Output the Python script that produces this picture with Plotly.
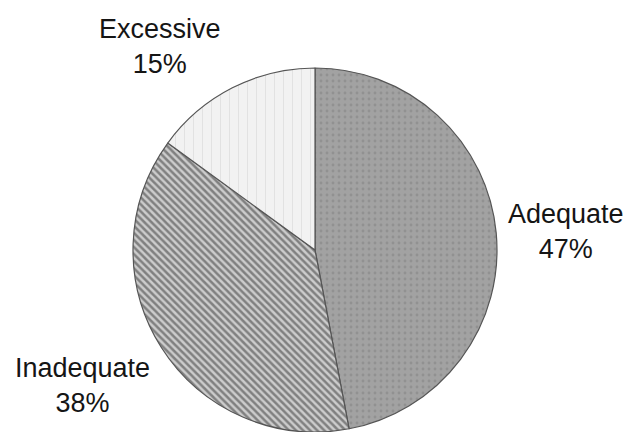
import plotly.graph_objects as go

labels = ["Adequate", "Inadequate", "Excessive"]
values = [47, 38, 15]

bg_colors = ["#a2a2a2", "#cccccc", "#f2f2f2"]
fg_colors = ["#808080", "#333333", "#cfcfcf"]
shapes = [".", "\\", "|"]
sizes = [6, 5, 9]
solidities = [0.18, 0.5, 0.1]

# label anchor positions (paper coords)
label_x = [566 / 628, 82 / 628, 159.5 / 628]
label_y = [1 - 231.5 / 432, 1 - 385 / 432, 1 - 46.5 / 432]

fig = go.Figure(
    go.Pie(
        labels=labels,
        values=values,
        sort=False,
        direction="clockwise",
        rotation=0,
        textinfo="none",
        hoverinfo="label+percent",
        showlegend=False,
        domain=dict(x=[0.2118, 0.7914], y=[0.0, 0.8426]),
        marker=dict(
            colors=bg_colors,
            line=dict(color="#555555", width=1.2),
            pattern=dict(
                shape=shapes,
                fgcolor=fg_colors,
                bgcolor=bg_colors,
                size=sizes,
                solidity=solidities,
                fillmode="overlay",
            ),
        ),
    )
)

for lab, val, x, y in zip(labels, values, label_x, label_y):
    fig.add_annotation(
        text=f"{lab}<br>{val}%",
        x=x,
        y=y,
        xref="paper",
        yref="paper",
        xanchor="center",
        yanchor="middle",
        showarrow=False,
        align="center",
        font=dict(family="Liberation Sans, Arial, sans-serif", size=27, color="#151515"),
    )

fig.update_layout(
    width=628,
    height=432,
    margin=dict(l=0, r=0, t=0, b=0),
    paper_bgcolor="white",
    plot_bgcolor="white",
)

fig.write_html("out.html")
